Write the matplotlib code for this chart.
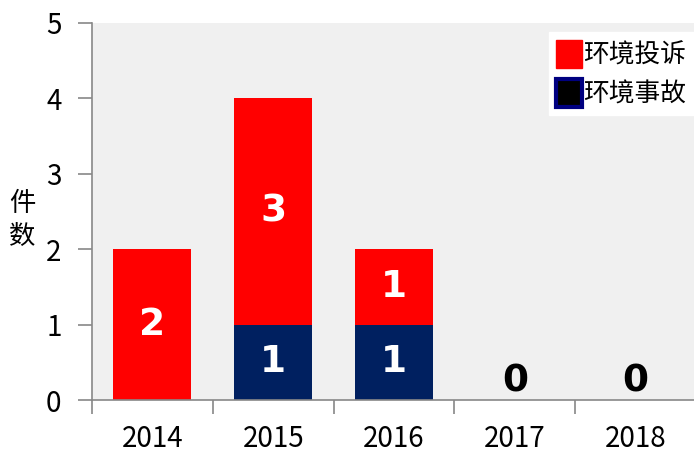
import matplotlib
matplotlib.use("Agg")
import matplotlib.pyplot as plt
from matplotlib.patches import Patch
import numpy as np

plt.rcParams['font.family'] = ['Noto Sans CJK SC', 'DejaVu Sans']

years = ['2014', '2015', '2016', '2017', '2018']
accident = [0, 1, 1, 0, 0]     # 环境事故
complaint = [2, 3, 1, 0, 0]    # 环境投诉

red = '#ff0000'
navy = '#002060'

fig = plt.figure(figsize=(6.94, 4.59), dpi=100)
ax = fig.add_axes([92 / 694, 1 - 400 / 459, 604 / 694, 377 / 459])
ax.set_facecolor('#f0f0f0')

x = np.arange(len(years))
w = 0.645
ax.bar(x, accident, width=w, color=navy, zorder=2)
ax.bar(x, complaint, width=w, bottom=accident, color=red, zorder=2)

# 数据标签
lab = dict(ha='center', va='center', fontsize=27, fontweight='bold', family='DejaVu Sans')
for i in range(len(years)):
    if accident[i] > 0:
        ax.text(x[i], accident[i] / 2, str(accident[i]), color='white', **lab)
    if complaint[i] > 0:
        ax.text(x[i], accident[i] + complaint[i] / 2, str(complaint[i]), color='white', **lab)
    if accident[i] + complaint[i] == 0:
        ax.text(x[i], 0.24, '0', color='black', **lab)

ax.set_xlim(-0.5, 4.5)
ax.set_ylim(0, 5)
ax.set_yticks(range(6))
ax.set_xticks(x)
ax.set_xticklabels(years)
ax.set_xticks(np.arange(-0.5, 5, 1), minor=True)
ax.tick_params(axis='x', which='major', length=0, pad=17, labelsize=20)
ax.tick_params(axis='x', which='minor', length=10, color='#888888', width=1.2)
ax.tick_params(axis='y', length=10, color='#888888', width=1.2, pad=12, labelsize=20)

for s in ['top', 'right']:
    ax.spines[s].set_visible(False)
for s in ['left', 'bottom']:
    ax.spines[s].set_color('#888888')
    ax.spines[s].set_linewidth(1.2)

fig.text(22 / 694, 1 - 220 / 459, '件\n数', ha='center', va='center', fontsize=19, linespacing=1.3)

handles = [Patch(facecolor=red, edgecolor=red, label='环境投诉'),
           Patch(facecolor='black', edgecolor='#000080', linewidth=3, label='环境事故')]
leg = fig.legend(handles=handles, loc='upper right', bbox_to_anchor=(1.0, 1 - 32 / 459),
                 fontsize=18.5, frameon=True, fancybox=False, framealpha=1,
                 handlelength=1.0, handleheight=1.3, handletextpad=0.05,
                 borderpad=0.3, labelspacing=0.4, borderaxespad=0)
leg.get_frame().set_facecolor('white')
leg.get_frame().set_edgecolor('white')

fig.savefig('out.png', dpi=100, facecolor='white')
